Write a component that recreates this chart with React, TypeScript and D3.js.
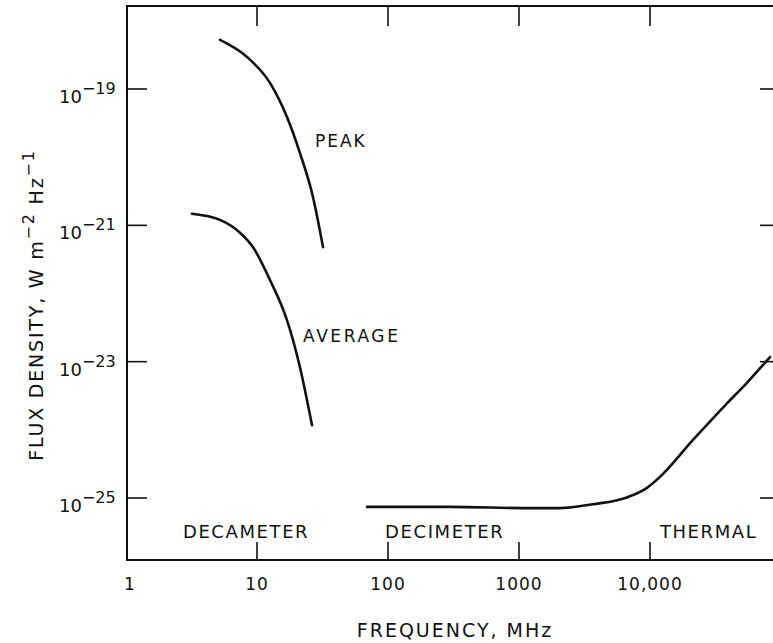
import React from 'react'
import * as d3 from 'd3'

// frequency in MHz, flux density in W m^-2 Hz^-1
const peakFreq = [5.22, 8.39, 12.56, 16.94, 21.28, 26.73, 31.92]
const peakFlux = [5.25e-19, 2.95e-19, 1.23e-19, 3.89e-20, 1.15e-20, 2.63e-21, 4.79e-22]

const avgFreq = [3.19, 5.22, 7.41, 9.31, 12.56, 16.94, 21.28, 26.3]
const avgFlux = [1.48e-21, 1.2e-21, 7.8e-22, 4.8e-22, 1.58e-22, 4.07e-23, 8.3e-24, 1.17e-24]

const thermFreq = [69.2, 297, 1213, 2056, 3673, 6668, 9484, 11912, 21280, 38730, 54950, 82400]
const thermFlux = [7.4e-26, 7.4e-26, 7.1e-26, 7.1e-26, 8.1e-26, 1.02e-25, 1.41e-25, 2.04e-25, 7.1e-25, 2.45e-24, 4.9e-24, 1.17e-23]

const xTicks = [1, 10, 100, 1000, 10000]
const xTickLabels = ['1', '10', '100', '1000', '10,000']
const yTicks = [1e-19, 1e-21, 1e-23, 1e-25]
const yTickExp = ['19', '21', '23', '25']

const bandLabels = ['DECAMETER', 'DECIMETER', 'THERMAL']
const bandFreq = [2.72, 95, 11900]

const W = 773
const H = 643
const left = 127, right = 780, top = 6, bottom = 560
const font = '"DejaVu Sans", sans-serif'

export default function App() {
  const x = d3.scaleLog().domain([1, 1e5]).range([126, 781])
  const y = d3.scaleLog().domain([1e-25, 1e-19]).range([498, 89])

  const line = d3.line<[number, number]>()
    .x(d => x(d[0]))
    .y(d => y(d[1]))
    .curve(d3.curveMonotoneX)

  const zip = (a: number[], b: number[]) => a.map((v, i) => [v, b[i]] as [number, number])

  const series = [zip(peakFreq, peakFlux), zip(avgFreq, avgFlux), zip(thermFreq, thermFlux)]

  return (
    <svg width={W} height={H} style={{ position: 'fixed', top: 0, left: 0, background: '#fff' }}
      fontFamily={font}>
      {/* frame */}
      <path d={`M${right},${top}H${left}V${bottom}H${right}`} fill="none" stroke="#111" strokeWidth={2} />
      <line x1={right} x2={right} y1={top} y2={bottom} stroke="#111" strokeWidth={2} />

      {/* x ticks */}
      {xTicks.map((t, i) => (
        <g key={'xt' + i}>
          {i > 0 && <line x1={x(t)} x2={x(t)} y1={bottom} y2={bottom - 18} stroke="#111" strokeWidth={1.6} />}
          {i > 0 && <line x1={x(t)} x2={x(t)} y1={top} y2={top + 20} stroke="#111" strokeWidth={1.6} />}
          <text x={x(t) + (i === 0 ? 4 : 0)} y={590} textAnchor="middle" fontSize={17} fill="#111"
            letterSpacing={1}>{xTickLabels[i]}</text>
        </g>
      ))}

      {/* y ticks */}
      {yTicks.map((t, i) => (
        <g key={'yt' + i}>
          <line x1={left} x2={left + 20} y1={y(t)} y2={y(t)} stroke="#111" strokeWidth={1.6} />
          <line x1={right} x2={right - 20} y1={y(t)} y2={y(t)} stroke="#111" strokeWidth={1.6} />
          <text x={59} y={y(t) + 14} fontSize={18} fill="#111">
            10<tspan dy={-9} fontSize={16}>{'\u2212' + yTickExp[i]}</tspan>
          </text>
        </g>
      ))}

      {/* curves */}
      {series.map((s, i) => (
        <path key={'s' + i} d={line(s) || ''} fill="none" stroke="#111" strokeWidth={2.6} strokeLinecap="round" />
      ))}

      {/* curve labels */}
      <text x={315} y={147} fontSize={17} fill="#111" letterSpacing={2}>PEAK</text>
      <text x={303} y={342} fontSize={17} fill="#111" letterSpacing={2.6}>AVERAGE</text>

      {/* band labels */}
      {bandLabels.map((b, i) => (
        <text key={'b' + i} x={x(bandFreq[i])} y={538} fontSize={18} fill="#111" letterSpacing={1.6}>{b}</text>
      ))}

      {/* axis titles */}
      <text x={455} y={637} textAnchor="middle" fontSize={19} fill="#111" letterSpacing={2}>FREQUENCY, MHz</text>
      <text transform="translate(43,305) rotate(-90)" textAnchor="middle" fontSize={19} fill="#111" letterSpacing={1.8}>
        FLUX DENSITY, W m<tspan dy={-9} fontSize={16}>{'\u22122'}</tspan>
        <tspan dy={9}> Hz</tspan><tspan dy={-9} fontSize={16}>{'\u22121'}</tspan>
      </text>
    </svg>
  )
}
